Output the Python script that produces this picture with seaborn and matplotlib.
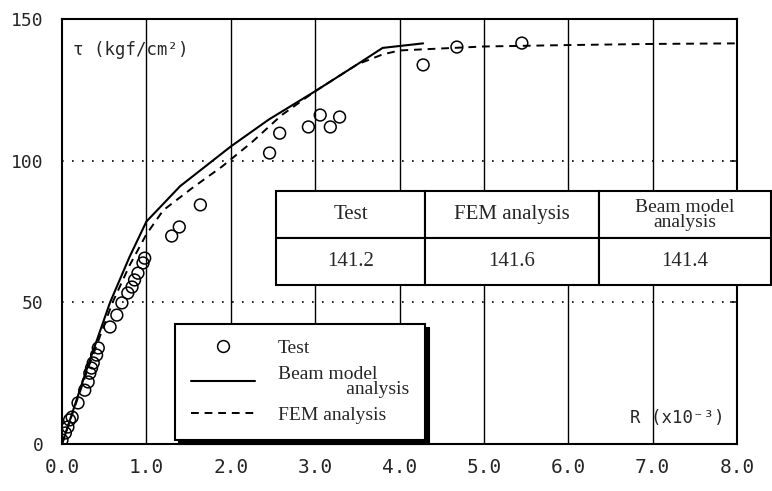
import matplotlib
matplotlib.use("Agg")
import matplotlib.pyplot as plt
import seaborn as sns
from matplotlib.lines import Line2D

# Test points (R x10^-3, tau kgf/cm2)
test_r = [0.00, 0.04, 0.07, 0.09, 0.12, 0.19, 0.27, 0.31, 0.33, 0.35, 0.37, 0.41, 0.43,
          0.57, 0.65, 0.71, 0.78, 0.83, 0.86, 0.90, 0.96, 0.98,
          1.30, 1.39, 1.64, 2.46, 2.58, 2.92, 3.06, 3.18, 3.29, 4.28, 4.68, 5.45]
test_tau = [1.4, 3.9, 6.0, 8.5, 9.5, 14.5, 19.0, 21.9, 25.0, 26.8, 28.6, 31.4, 33.9,
            41.3, 45.5, 49.8, 53.3, 55.4, 57.9, 60.3, 63.9, 65.6,
            73.4, 76.6, 84.4, 102.7, 109.7, 111.9, 116.1, 111.9, 115.4, 133.8, 140.1, 141.5]

# Beam model analysis (solid)
beam_r = [0.0, 0.3, 0.57, 0.8, 1.0, 1.4, 2.0, 2.45, 3.0, 3.5, 3.8, 4.28]
beam_tau = [0.0, 27.0, 50.0, 66.0, 78.5, 91.0, 105.0, 114.5, 124.5, 134.0, 139.8, 141.4]

# FEM analysis (dashed)
fem_r = [0.0, 0.3, 0.6, 0.8, 1.0, 1.2, 1.55, 1.9, 2.25, 2.6, 3.0, 3.5, 3.8, 4.0, 5.0, 6.0, 7.0, 8.0]
fem_tau = [0.0, 26.0, 50.0, 63.0, 74.0, 82.5, 90.5, 98.0, 106.5, 116.0, 124.5, 134.0, 137.5,
           138.9, 140.3, 140.8, 141.2, 141.4]

table_headers = ["Test", "FEM analysis", "Beam model\nanalysis"]
table_values = ["141.2", "141.6", "141.4"]

x_ticks = [0, 1, 2, 3, 4, 5, 6, 7, 8]
x_labels = ["0.0", "1.0", "2.0", "3.0", "4.0", "5.0", "6.0", "7.0", "8.0"]
y_ticks = [0, 50, 100, 150]

sns.set_style("white")
plt.rcParams["font.family"] = ["DejaVu Sans Mono", "DejaVu Sans"]

fig = plt.figure(figsize=(7.72, 4.91), dpi=100)
ax = fig.add_axes([0.0803, 0.0957, 0.8744, 0.8656])

# grid
for x in x_ticks[1:-1]:
    ax.axvline(x, color="black", lw=1.0, zorder=1)
for y in [50, 100]:
    ax.axhline(y, color="black", lw=1.2, ls=(0, (1, 5)), zorder=1)

sns.lineplot(x=beam_r, y=beam_tau, ax=ax, color="black", lw=1.5, sort=False, zorder=3)
sns.lineplot(x=fem_r, y=fem_tau, ax=ax, color="black", lw=1.4, ls=(0, (4, 3)), sort=False, zorder=3)
sns.scatterplot(x=test_r, y=test_tau, ax=ax, marker="o", s=72, facecolors="none",
                edgecolor="black", linewidth=1.1, zorder=4)

ax.set_xlim(0, 8)
ax.set_ylim(0, 150)
ax.set_xticks(x_ticks)
ax.set_xticklabels(x_labels, fontsize=14)
ax.set_yticks(y_ticks)
ax.set_yticklabels([str(v) for v in y_ticks], fontsize=13)
ax.tick_params(axis="x", length=0, pad=10)
ax.tick_params(axis="y", direction="in", length=5, width=1.2, right=True, pad=13)
for sp in ax.spines.values():
    sp.set_color("black")
    sp.set_linewidth(1.5)

ax.text(0.13, 139, "τ (kgf/cm²)", fontsize=12.5, va="center", ha="left")
ax.text(6.73, 9.2, "R (x10⁻³)", fontsize=12.5, va="center", ha="left")

# table of maximum values
tbl = ax.table(cellText=[table_headers, table_values], cellLoc="center",
               colWidths=[1.76, 2.06, 2.05],
               bbox=[0.3175, 0.374, 0.7335, 0.221])
tbl.auto_set_font_size(False)
for (r, c), cell in tbl.get_celld().items():
    cell.set_linewidth(1.5)
    cell.set_edgecolor("black")
    cell.set_facecolor("white")
    t = cell.get_text()
    t.set_fontfamily("Liberation Serif")
    t.set_fontsize(15 if not (r == 0 and c == 2) else 14)
    t.set_linespacing(0.85)
tbl.set_zorder(5)
tbl.set_clip_on(False)

handles = [
    Line2D([], [], ls="none", marker="o", mfc="none", mec="black", ms=8.5, mew=1.1),
    Line2D([], [], color="black", lw=1.5),
    Line2D([], [], color="black", lw=1.4, ls=(0, (4, 3))),
]
labels = ["Test", "Beam model\n" + " " * 14 + "analysis", "FEM analysis"]
leg = ax.legend(handles, labels, loc="upper left", mode="expand",
                bbox_to_anchor=(0.1675, 0.014, 0.37, 0.269),
                frameon=True, fancybox=False, shadow={"color": "black", "alpha": 1, "ox": 3, "oy": -3},
                prop={"family": "Liberation Serif", "size": 14},
                handlelength=3.3, handletextpad=1.2, labelspacing=0.45,
                borderpad=0.8, borderaxespad=0)
leg.get_frame().set_edgecolor("black")
leg.get_frame().set_linewidth(1.5)
leg.set_zorder(6)
for t in leg.get_texts():
    t.set_linespacing(0.85)

fig.savefig("out.png", dpi=100)
